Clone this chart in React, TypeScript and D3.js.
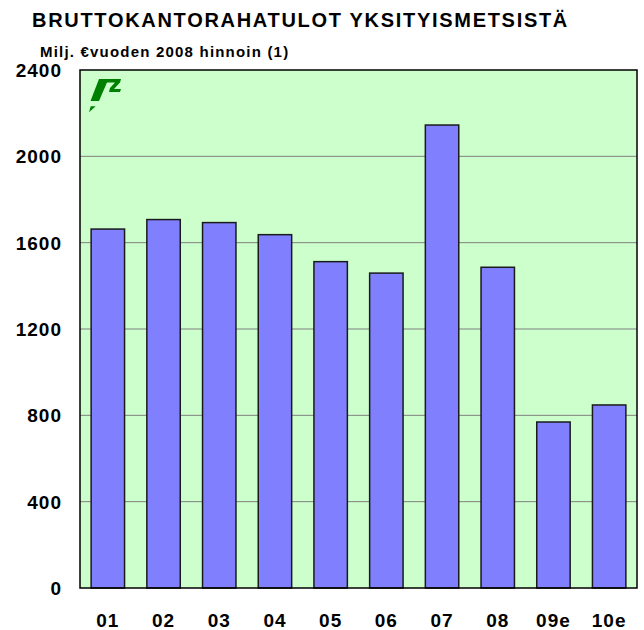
import * as d3 from "d3";
import { useEffect, useRef } from "react";

const years = ["01", "02", "03", "04", "05", "06", "07", "08", "09e", "10e"];
const income = [1663, 1707, 1693, 1637, 1512, 1459, 2145, 1486, 769, 848];
const yTicks = [0, 400, 800, 1200, 1600, 2000, 2400];

const title = "BRUTTOKANTORAHATULOT YKSITYISMETSISTÄ";
const subtitle = "Milj. €vuoden 2008 hinnoin (1)";

const FONT = "'Liberation Sans', Arial, sans-serif";

const App = () => {
  const ref = useRef<SVGSVGElement | null>(null);

  useEffect(() => {
    if (!ref.current) return;
    const svg = d3.select(ref.current);
    svg.selectAll("*").remove();

    const left = 80,
      right = 637,
      top = 70,
      bottom = 588;

    const x = d3
      .scaleBand()
      .domain(years)
      .range([left, right])
      .paddingInner(0.4)
      .paddingOuter(0.2);
    const y = d3.scaleLinear().domain([0, 2400]).range([bottom, top]);

    svg
      .append("text")
      .attr("x", 32)
      .attr("y", 27)
      .attr("font-family", FONT)
      .attr("font-weight", "bold")
      .attr("font-size", 20)
      .attr("letter-spacing", 1.7)
      .text(title);

    svg
      .append("text")
      .attr("x", 40)
      .attr("y", 57)
      .attr("font-family", FONT)
      .attr("font-weight", "bold")
      .attr("font-size", 15)
      .attr("letter-spacing", 1.2)
      .text(subtitle);

    // plot background
    svg
      .append("rect")
      .attr("x", left)
      .attr("y", top)
      .attr("width", right - left)
      .attr("height", bottom - top)
      .attr("fill", "#ccffcc");

    // grid
    svg
      .append("g")
      .selectAll("line")
      .data(yTicks.filter((t) => t > 0 && t < 2400))
      .enter()
      .append("line")
      .attr("x1", left)
      .attr("x2", right)
      .attr("y1", (d) => y(d))
      .attr("y2", (d) => y(d))
      .attr("stroke", "#808080")
      .attr("stroke-width", 1);

    // logo
    const logo = svg.append("g").attr("fill", "#008000");
    logo.append("path").attr("d", "M99,79 L108.5,79 L99,101 L90.5,101 Z");
    logo
      .append("path")
      .attr(
        "d",
        "M106,79 L121,79 L120,82.5 L114,89 L121,89 L120,92 L109,92 L110,88 L115,82.5 L106,82.5 Z"
      );
    logo.append("path").attr("d", "M90.7,106.3 L95.7,106.3 L89,112.3 Z");

    // bars
    svg
      .append("g")
      .selectAll("rect")
      .data(years.map((name, i) => ({ name, value: income[i] })))
      .enter()
      .append("rect")
      .attr("x", (d) => x(d.name) as number)
      .attr("y", (d) => y(d.value))
      .attr("width", x.bandwidth())
      .attr("height", (d) => bottom - y(d.value))
      .attr("fill", "#8080ff")
      .attr("stroke", "#1a1a1a")
      .attr("stroke-width", 1.5);

    // frame
    svg
      .append("rect")
      .attr("x", left)
      .attr("y", top)
      .attr("width", right - left)
      .attr("height", bottom - top)
      .attr("fill", "none")
      .attr("stroke", "#000")
      .attr("stroke-width", 1.5);

    // y labels
    svg
      .append("g")
      .selectAll("text")
      .data(yTicks)
      .enter()
      .append("text")
      .attr("x", 62)
      .attr("y", (d) => y(d))
      .attr("dy", "0.36em")
      .attr("text-anchor", "end")
      .attr("font-family", FONT)
      .attr("font-weight", "bold")
      .attr("font-size", 19)
      .attr("letter-spacing", 1)
      .text((d) => String(d));

    // x labels
    svg
      .append("g")
      .selectAll("text")
      .data(years)
      .enter()
      .append("text")
      .attr("x", (d) => (x(d) as number) + x.bandwidth() / 2)
      .attr("y", 627)
      .attr("text-anchor", "middle")
      .attr("font-family", FONT)
      .attr("font-weight", "bold")
      .attr("font-size", 19)
      .attr("letter-spacing", 1)
      .text((d) => d);
  }, []);

  return (
    <svg
      ref={ref}
      width={644}
      height={630}
      style={{ position: "absolute", left: 0, top: 0, background: "#fff" }}
    />
  );
};

export default App;
